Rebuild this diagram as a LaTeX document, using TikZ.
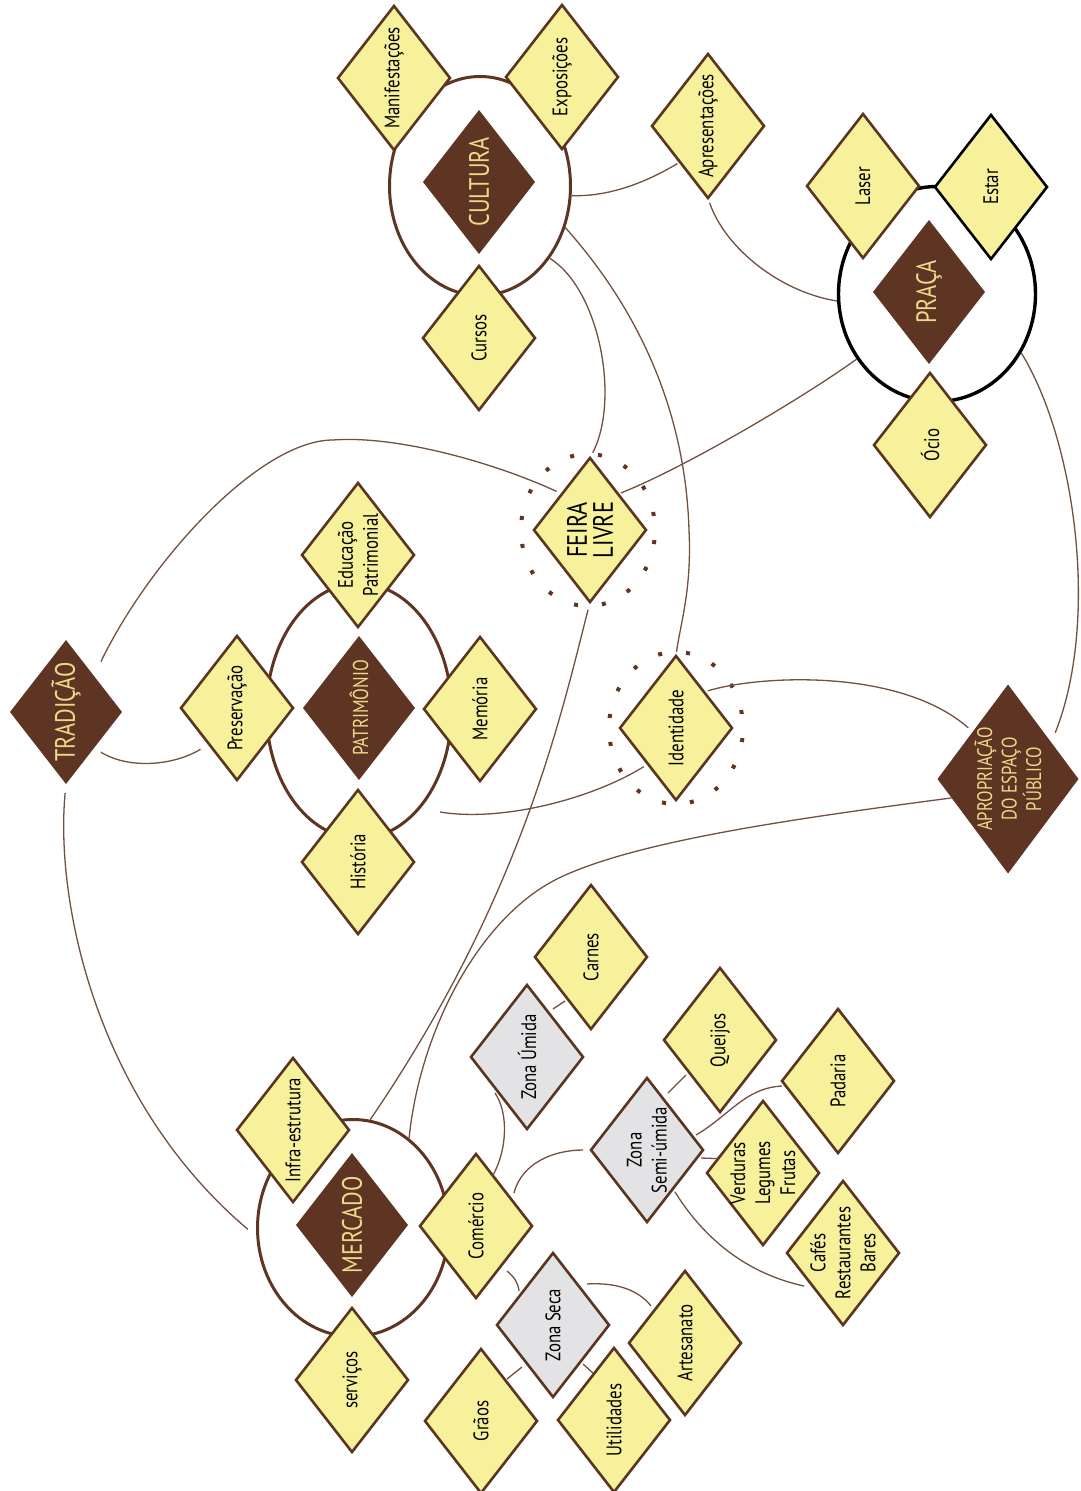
\documentclass[tikz,border=0pt]{standalone}
\usepackage{fontspec}
\setmainfont{PT Sans}[FakeStretch=0.8]
\usetikzlibrary{shapes.geometric,calc}
\definecolor{brnC}{HTML}{5E3423}
\definecolor{bordC}{HTML}{5A3520}
\definecolor{yelC}{HTML}{F7F19B}
\definecolor{grayC}{HTML}{E3E3E5}
\definecolor{lineC}{HTML}{73503F}
\definecolor{ellC}{HTML}{5E3423}
\definecolor{headC}{HTML}{EDD98A}
\begin{document}
\begin{tikzpicture}[x=1pt,y=-1pt,
  base/.style={diamond, inner sep=0pt, outer sep=0pt, minimum width=112pt, minimum height=144pt, line width=2.6pt},
  yd/.style={base, draw=bordC, fill=yelC},
  gd/.style={base, draw=bordC, fill=grayC},
  bd/.style={base, fill=brnC},
  lbl/.style={rotate=90, align=center, text=black, inner sep=0pt, font=\fontsize{21}{25}\selectfont},
  hd/.style={rotate=90, align=center, text=headC, inner sep=0pt, font=\fontsize{28}{30}\selectfont},
  ell/.style={ellipse, draw=ellC, line width=3pt, fill=white, inner sep=0pt},
  ring/.style={ellipse, draw=brnC, line width=4pt, dash pattern=on 4pt off 24.1pt, dash phase=14pt, inner sep=0pt, minimum width=134pt, minimum height=152pt},
  conn/.style={draw=lineC, line width=1.3pt}
]
\useasboundingbox[fill=white] (0,0) rectangle (1081,1491);

% ---------- groups (ellipses) ----------
\node[ell, minimum width=181pt, minimum height=219pt] (cultE) at (480,186) {};
\node[ell, draw=black, line width=3.4pt, minimum width=197pt, minimum height=215pt] (pracaE) at (937,294) {};
\node[ell, minimum width=185pt, minimum height=255pt] (patE) at (359,711) {};
\node[ell, minimum width=191pt, minimum height=217pt] (merE) at (353,1228) {};

% ---------- diamonds ----------
\node[bd] (cult) at (479,182) {};
\node[yd] (manif) at (394,78) {};
\node[yd] (expo) at (562,77) {};
\node[yd] (cursos) at (479,338) {};
\node[yd] (apres) at (708,126) {};

\node[bd] (praca) at (929,292) {};
\node[yd] (laser) at (863,186) {};
\node[yd, draw=black] (estar) at (991,187) {};
\node[yd] (ocio) at (930,445) {};

\node[bd] (trad) at (66,712) {};
\node[yd] (pres) at (237,708) {};
\node[bd] (patr) at (359,708) {};
\node[yd] (educ) at (358,555) {};
\node[yd] (mem) at (480,709) {};
\node[yd] (hist) at (358,862) {};

\node[yd] (feira) at (590,530) {};
\node[yd] (iden) at (676,728) {};
\node[bd, minimum width=141pt, minimum height=189pt] (apro) at (1008,779) {};

\node[bd] (merc) at (352,1225) {};
\node[yd] (infra) at (293,1130) {};
\node[yd] (com) at (476,1226) {};
\node[yd] (serv) at (352,1380) {};

\node[gd] (umida) at (527,1057) {};
\node[yd] (carnes) at (591,957) {};
\node[gd] (semi) at (647,1150) {};
\node[yd] (queijos) at (720,1040) {};
\node[yd] (padaria) at (838,1081) {};
\node[yd] (verd) at (763,1173) {};
\node[yd] (cafes) at (843,1253) {};
\node[gd] (seca) at (553,1325) {};
\node[yd] (artes) at (685,1343) {};
\node[yd] (graos) at (481,1421) {};
\node[yd] (util) at (614,1420) {};

% ---------- dotted rings ----------
\node[ring] (feiraRing) at (588,530) {};
\node[ring] (idenRing) at (676,728) {};

% ---------- connectors ----------
\draw[conn, shorten >=3pt] (cultE.-6) .. controls (612,197) and (650,180) .. (apres.south west);
\draw[conn, shorten <=5pt] (apres.south) .. controls (725,248) and (780,292) .. (pracaE.184);
\draw[conn, shorten >=6pt] (cultE.-46) .. controls (600,290) and (620,400) .. (feira.north);
\draw[conn, shorten >=4pt] (cultE.-26) .. controls (630,300) and (685,400) .. (689,530) .. controls (692,590) and (680,625) .. (iden.north);
\draw[conn, shorten >=3pt] (pracaE.219) .. controls (800,400) and (680,470) .. (feira.north east);
\draw[conn] (pracaE.-35) .. controls (1075,440) and (1100,620) .. ($(apro.north east)+(12,1)$);
\draw[conn, shorten <=6pt, shorten >=16pt] (feira.north west) .. controls (500,465) and (400,435) .. (333,440) .. controls (260,440) and (150,560) .. (trad.north east);
\draw[conn, shorten <=8pt, shorten >=10pt] (trad.south east) .. controls (130,770) and (175,765) .. (pres.south west);
\draw[conn, shorten <=9pt, shorten >=11pt] (trad.south) .. controls (55,900) and (95,1100) .. (merE.185);
\coordinate (patLink) at (440,812);
\draw[conn, shorten >=5pt] (patLink) .. controls (500,822) and (590,800) .. (iden.south west);
\draw[conn, shorten <=8pt] (feira.south) .. controls (560,720) and (520,900) .. (merE.81);
\draw[conn] ($(apro.west)!0.2!(apro.south)$) .. controls (800,818) and (640,840) .. (561,877) .. controls (480,915) and (420,1030) .. (merE.58);
\draw[conn, shorten <=4pt, shorten >=6pt] (iden.north east) .. controls (760,675) and (900,668) .. (apro.north west);

\draw[conn] ($(com.north)!0.3!(com.east)$) .. controls (508,1148) and (508,1112) .. ($(umida.south west)+(-4,0)$);
\draw[conn] ($(com.north east)+(10,3)$) .. controls (522,1162) and (555,1150) .. ($(semi.west)+(-8,0)$);
\draw[conn] ($(umida.north east)+(-2,-12)$) -- ($(carnes.south west)+(2,8)$);
\draw[conn] ($(semi.north east)+(-7,-21)$) -- ($(queijos.south west)+(-6,-1)$);
\draw[conn] ($(semi.north east)+(21,21)$) .. controls (730,1115) and (745,1088) .. ($(padaria.west)+(0,5)$);
\draw[conn] ($(semi.east)+(-2,8)$) -- ($(verd.west)!0.2!(verd.north)$);
\draw[conn] ($(semi.south east)+(0,6)$) .. controls (700,1232) and (740,1272) .. ($(cafes.south west)+(-11,-3)$);
\draw[conn] ($(com.south east)+(3,9)$) .. controls (514,1277) and (518,1282) .. ($(seca.north west)+(-6,2)$);
\draw[conn] ($(seca.north east)+(6,-5)$) .. controls (620,1282) and (640,1292) .. ($(artes.north west)+(-6,-1)$);
\draw[conn] ($(seca.south west)+(-3,6)$) -- ($(graos.north east)+(-2,-6)$);
\draw[conn] ($(seca.south east)+(2,3)$) -- ($(util.north west)+(7,-11)$);

% ---------- labels ----------
\node[hd] (cultT) at (cult) {CULTURA};
\node[lbl] (manifT) at (manif) {Manifestações};
\node[lbl] (expoT) at (expo) {Exposições};
\node[lbl] (cursosT) at (cursos) {Cursos};
\node[lbl] (apresT) at (apres) {Apresentações};
\node[hd] (pracaT) at (praca) {PRAÇA};
\node[lbl] (laserT) at (laser) {Laser};
\node[lbl] (estarT) at (estar) {Estar};
\node[lbl] (ocioT) at (ocio) {Ócio};
\node[hd] (tradT) at (trad) {TRADIÇÃO};
\node[lbl] (presT) at (pres) {Preservação};
\node[hd, font=\fontsize{21.5}{24}\selectfont] (patrT) at (patr) {PATRIMÔNIO};
\node[lbl] (educT) at (educ) {Educação\\Patrimonial};
\node[lbl] (memT) at (mem) {Memória};
\node[lbl] (histT) at (hist) {História};
\node[lbl, font=\fontsize{28}{26}\selectfont] (feiraT) at (feira) {FEIRA\\LIVRE};
\node[lbl] (idenT) at (iden) {Identidade};
\node[hd, font=\fontsize{21}{24.5}\selectfont] (aproT) at (apro) {APROPRIAÇÃO\\DO ESPAÇO\\PÚBLICO};
\node[hd] (mercT) at (merc) {MERCADO};
\node[lbl] (infraT) at (infra) {Infra-estrutura};
\node[lbl] (comT) at (com) {Comércio};
\node[lbl] (servT) at (serv) {serviços};
\node[lbl] (umidaT) at (umida) {Zona Úmida};
\node[lbl] (carnesT) at (carnes) {Carnes};
\node[lbl] (semiT) at (semi) {Zona\\Semi-úmida};
\node[lbl] (queijosT) at (queijos) {Queijos};
\node[lbl] (padariaT) at (padaria) {Padaria};
\node[lbl] (verdT) at (verd) {Verduras\\Legumes\\Frutas};
\node[lbl] (cafesT) at (cafes) {Cafés\\Restaurantes\\Bares};
\node[lbl] (secaT) at (seca) {Zona Seca};
\node[lbl] (artesT) at (artes) {Artesanato};
\node[lbl] (graosT) at (graos) {Grãos};
\node[lbl] (utilT) at (util) {Utilidades};
\end{tikzpicture}
\end{document}
